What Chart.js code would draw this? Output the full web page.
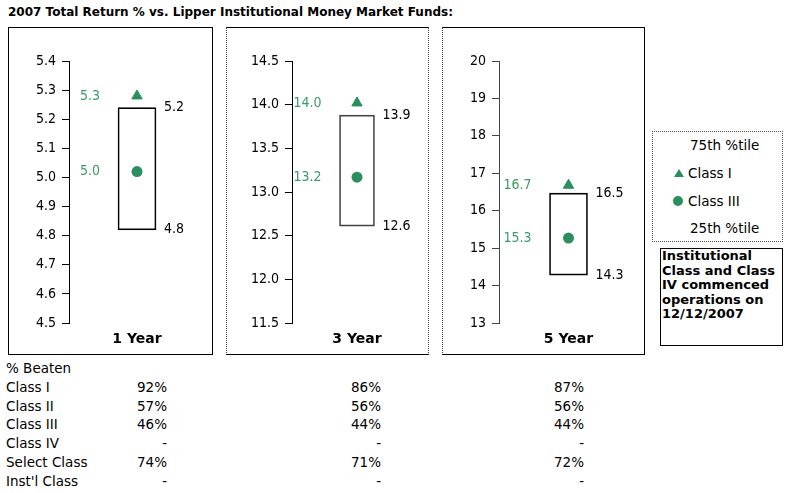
<!DOCTYPE html>
<html>
<head>
<meta charset="utf-8">
<script src="https://cdn.jsdelivr.net/npm/chart.js@4.4.1/dist/chart.umd.min.js"></script>
<style>
  body { margin: 0; background: #fff; width: 791px; height: 493px; position: relative; overflow: hidden;
         font-family: "DejaVu Sans", Verdana, sans-serif; color: #000; }
  .abs { position: absolute; white-space: nowrap; }
  #title { left: 8px; top: 5px; font-weight: bold; font-size: 12px; }
  .frame { position: absolute; box-sizing: border-box; border: 1px solid #000; }
  canvas { position: absolute; }
  .row { font-size: 13.5px; line-height: 16px; }
  .val { text-align: right; }
  #legend { left: 652px; top: 131px; width: 131px; height: 111px; box-sizing: border-box; border: 1px dotted #555; }
  #note { left: 660px; top: 248px; width: 123px; height: 98px; box-sizing: border-box; border: 1px solid #000;
          font-weight: bold; font-size: 13px; line-height: 14.5px; padding-left: 1px; white-space: normal; }
  .tri { width: 0; height: 0; border-left: 5px solid transparent; border-right: 5px solid transparent; border-bottom: 8px solid #2b8f5d; }
  .dot { width: 10px; height: 10px; border-radius: 50%; background: #2b8f5d; }
</style>
</head>
<body>
<div id="title" class="abs">2007 Total Return % vs. Lipper Institutional Money Market Funds:</div>

<div class="frame" style="left:8px; top:27px; width:205px; height:328px;"></div>
<div class="frame" style="left:226px; top:27px; width:203px; height:328px; border-left:1px dotted #444; border-right:1px dotted #444;"></div>
<div class="frame" style="left:442px; top:27px; width:203px; height:328px; border-left:1px dotted #444;"></div>

<canvas id="c0" width="205" height="328" style="left:8px; top:27px;"></canvas>
<canvas id="c1" width="203" height="328" style="left:226px; top:27px;"></canvas>
<canvas id="c2" width="203" height="328" style="left:442px; top:27px;"></canvas>

<div id="legend" class="abs"></div>
<div class="abs row" style="left:690px; top:137px;">75th %tile</div>
<div class="abs tri" style="left:674px; top:169px;"></div>
<div class="abs row" style="left:688px; top:165px;">Class I</div>
<div class="abs dot" style="left:673px; top:196px;"></div>
<div class="abs row" style="left:688px; top:193px;">Class III</div>
<div class="abs row" style="left:690px; top:220px;">25th %tile</div>

<div id="note" class="abs">Institutional Class and Class IV commenced operations on 12/12/2007</div>

<div id="table"></div>

<script>
// valeurs
const periods = ['1 Year', '3 Year', '5 Year'];
const pct75 = [5.24, 13.88, 16.47];
const pct25 = [4.82, 12.61, 14.28];
const classI = [5.28, 14.02, 16.68];
const classIII = [5.02, 13.17, 15.27];

// axes
const yMin = [4.5, 11.5, 13];
const yMax = [5.4, 14.5, 20];
const yStep = [0.1, 0.5, 1];
const yDecimals = [1, 1, 0];

// tableau % Beaten
const beatenRows = ['Class I', 'Class II', 'Class III', 'Class IV', 'Select Class', "Inst'l Class"];
const beaten1 = ['92%', '57%', '46%', '-', '74%', '-'];
const beaten3 = ['86%', '56%', '44%', '-', '71%', '-'];
const beaten5 = ['87%', '56%', '44%', '-', '72%', '-'];

const green = '#2b8f5d';
const greenText = '#3a9b6a';
const narrow = '"DejaVu Sans Condensed", "Liberation Sans", Arial, sans-serif';

// mise en page de chaque panneau (largeur axe y, marge droite, épaisseur barre)
const axisWidth = [61, 66, 57];
const padRight = [8, 4, 4];
const barWidth = [38, 35, 38];
const boxBorder = ['#000', '#444', '#000'];
const axisColor = ['#000', '#000', '#444'];

// étiquettes à côté des marques
const valueLabels = {
    id: 'valueLabels',
    afterDatasetsDraw(chart) {
        const ctx = chart.ctx;
        const yScale = chart.scales.y;
        const bar = chart.getDatasetMeta(2).data[0];
        const left = bar.x - bar.width / 2;
        const right = bar.x + bar.width / 2;
        const range = chart.data.datasets[2].data[0];

        ctx.save();
        ctx.font = '14px ' + narrow;
        ctx.textBaseline = 'middle';

        ctx.fillStyle = '#000';
        ctx.textAlign = 'left';
        ctx.fillText(range[1].toFixed(1), right + 8, yScale.getPixelForValue(range[1]));
        ctx.fillText(range[0].toFixed(1), right + 8, yScale.getPixelForValue(range[0]));

        ctx.fillStyle = greenText;
        ctx.textAlign = 'right';
        [0, 1].forEach(i => {
            const v = chart.data.datasets[i].data[0];
            ctx.fillText(v.toFixed(1), left - 18, yScale.getPixelForValue(v));
        });
        ctx.restore();
    }
};

function creerPanneau(i) {
    const ctx = document.getElementById('c' + i);
    new Chart(ctx, {
        type: 'bar',
        data: {
            labels: [periods[i]],
            datasets: [
                {
                    type: 'line',
                    label: 'Class I',
                    data: [classI[i]],
                    showLine: false,
                    pointStyle: 'triangle',
                    pointRadius: 6,
                    backgroundColor: green,
                    borderColor: green,
                    borderWidth: 1
                },
                {
                    type: 'line',
                    label: 'Class III',
                    data: [classIII[i]],
                    showLine: false,
                    pointStyle: 'circle',
                    pointRadius: 5.5,
                    backgroundColor: green,
                    borderColor: green,
                    borderWidth: 0
                },
                {
                    label: '25th - 75th %tile',
                    data: [[pct25[i], pct75[i]]],
                    backgroundColor: 'rgba(255,255,255,0)',
                    borderColor: boxBorder[i],
                    borderWidth: 1,
                    borderSkipped: false,
                    barThickness: barWidth[i]
                }
            ]
        },
        options: {
            responsive: false,
            animation: false,
            layout: { padding: { top: 34, right: padRight[i], left: 0, bottom: 0 } },
            plugins: {
                legend: { display: false },
                tooltip: { enabled: false }
            },
            scales: {
                x: {
                    grid: { display: false, drawTicks: false },
                    border: { display: false },
                    ticks: {
                        color: '#000',
                        padding: 8,
                        font: { family: '"DejaVu Sans", Verdana, sans-serif', size: 14, weight: 'bold' }
                    },
                    afterFit: s => { s.height = 32; }
                },
                y: {
                    min: yMin[i],
                    max: yMax[i],
                    grid: {
                        drawOnChartArea: false,
                        drawTicks: true,
                        tickLength: 7,
                        color: axisColor[i]
                    },
                    border: { display: true, color: axisColor[i] },
                    ticks: {
                        stepSize: yStep[i],
                        color: '#000',
                        padding: 6,
                        font: { family: narrow, size: 14 },
                        callback: v => Number(v).toFixed(yDecimals[i])
                    },
                    afterFit: s => { s.width = axisWidth[i]; }
                }
            }
        },
        plugins: [valueLabels]
    });
}

[0, 1, 2].forEach(creerPanneau);

// tableau sous les graphiques
const table = document.getElementById('table');
function ajouter(text, left, top, width, align) {
    const d = document.createElement('div');
    d.className = 'abs row' + (align ? ' val' : '');
    d.style.left = left + 'px';
    d.style.top = top + 'px';
    if (width) d.style.width = width + 'px';
    d.textContent = text;
    table.appendChild(d);
}
ajouter('% Beaten', 6, 360);
beatenRows.forEach((r, k) => {
    const top = 379 + k * 18.7;
    ajouter(r, 6, top);
    ajouter(beaten1[k], 107, top, 60, true);
    ajouter(beaten3[k], 321, top, 60, true);
    ajouter(beaten5[k], 524, top, 60, true);
});
</script>
</body>
</html>
